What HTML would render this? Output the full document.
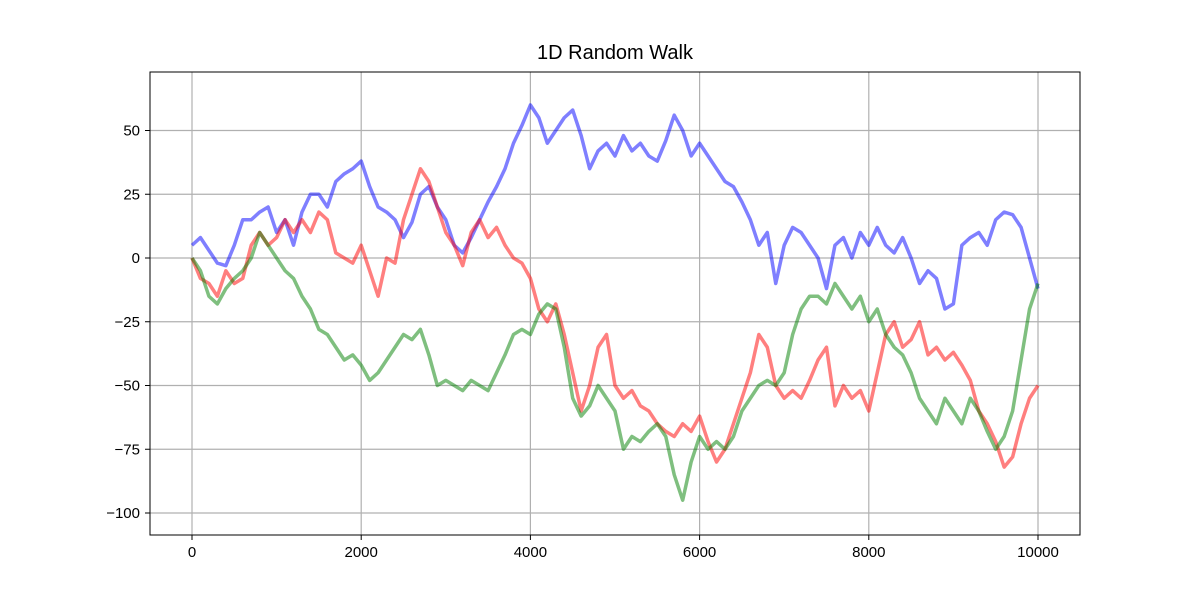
<!DOCTYPE html>
<html><head><meta charset="utf-8"><style>
body{margin:0;background:#fff;}
svg{display:block;font-family:"Liberation Sans","DejaVu Sans",sans-serif;}
</style></head><body>
<svg id="chart" width="1200" height="600">
<rect x="0" y="0" width="1200" height="600" fill="#fff"/>
<text x="615" y="59" text-anchor="middle" font-size="20">1D Random Walk</text>
<g id="grid"></g>
<g id="series"></g>
<rect x="150" y="72" width="930" height="463" fill="none" stroke="#000" stroke-width="1"/>
<g id="axes"></g>
</svg>
<script>
const xTicks=[0,2000,4000,6000,8000,10000];
const yTicks=[50,25,0,-25,-50,-75,-100];
const steps=[];for(let i=0;i<=100;i++)steps.push(i*100);
const blue=[5,8,3,-2,-3,5,15,15,18,20,10,15,5,18,25,25,20,30,33,35,38,28,20,18,15,8,14,25,28,20,15,5,2,8,15,22,28,35,45,52,60,55,45,50,55,58,48,35,42,45,40,48,42,45,40,38,46,56,50,40,45,40,35,30,28,22,15,5,10,-10,5,12,10,5,0,-12,5,8,0,10,5,12,5,2,8,0,-10,-5,-8,-20,-18,5,8,10,5,15,18,17,12,0,-12];
const red=[0,-8,-10,-15,-5,-10,-8,5,10,5,8,15,10,15,10,18,15,2,0,-2,5,-5,-15,0,-2,15,25,35,30,20,10,5,-3,10,15,8,12,5,0,-2,-8,-20,-25,-18,-30,-45,-60,-50,-35,-30,-50,-55,-52,-58,-60,-65,-68,-70,-65,-68,-62,-72,-80,-75,-65,-55,-45,-30,-35,-50,-55,-52,-55,-48,-40,-35,-58,-50,-55,-52,-60,-45,-30,-25,-35,-32,-25,-38,-35,-40,-37,-42,-48,-60,-65,-72,-82,-78,-65,-55,-50];
const green=[0,-5,-15,-18,-12,-8,-5,0,10,5,0,-5,-8,-15,-20,-28,-30,-35,-40,-38,-42,-48,-45,-40,-35,-30,-32,-28,-38,-50,-48,-50,-52,-48,-50,-52,-45,-38,-30,-28,-30,-22,-18,-20,-35,-55,-62,-58,-50,-55,-60,-75,-70,-72,-68,-65,-70,-85,-95,-80,-70,-75,-72,-75,-70,-60,-55,-50,-48,-50,-45,-30,-20,-15,-15,-18,-10,-15,-20,-15,-25,-20,-30,-35,-38,-45,-55,-60,-65,-55,-60,-65,-55,-60,-68,-75,-70,-60,-40,-20,-10];
const NS="http://www.w3.org/2000/svg";
const X=v=>192+v*(1038-192)/10000;
const Y=v=>258-v*2.55;
const grid=document.getElementById('grid'),axes=document.getElementById('axes'),ser=document.getElementById('series');
function mk(t,a,p){const e=document.createElementNS(NS,t);for(const k in a)e.setAttribute(k,a[k]);p.appendChild(e);return e;}
xTicks.forEach(v=>{
 const g=mk('line',{x1:X(v),x2:X(v),y1:72,y2:535,stroke:'#b0b0b0','stroke-width':1.2},grid);
 
 
 const t=mk('line',{x1:X(v),x2:X(v),y1:535,y2:540,stroke:'#000'},axes);
 
 
 const l=mk('text',{x:X(v),y:557,'text-anchor':'middle','font-size':15},axes);l.textContent=v;
 
 
});
yTicks.forEach(v=>{
 const g=mk('line',{x1:150,x2:1080,y1:Y(v),y2:Y(v),stroke:'#b0b0b0','stroke-width':1.2},grid);
 
 
 const t=mk('line',{x1:145,x2:150,y1:Y(v),y2:Y(v),stroke:'#000'},axes);
 
 
 const l=mk('text',{x:140,y:Y(v)+5,'text-anchor':'end','font-size':15},axes);l.textContent=v<0?'\u2212'+(-v):v;
 
 
});
[[blue,'rgba(0,0,255,0.5)','blue-walk'],[red,'rgba(255,0,0,0.5)','red-walk'],[green,'rgba(0,128,0,0.5)','green-walk']].forEach(([d,c,n])=>{
 const p=mk('polyline',{points:d.map((v,i)=>X(steps[i])+','+Y(v)).join(' '),fill:'none',stroke:c,'stroke-width':3.5,'stroke-linejoin':'round'},ser);
 
 
});
</script>
</body></html>
